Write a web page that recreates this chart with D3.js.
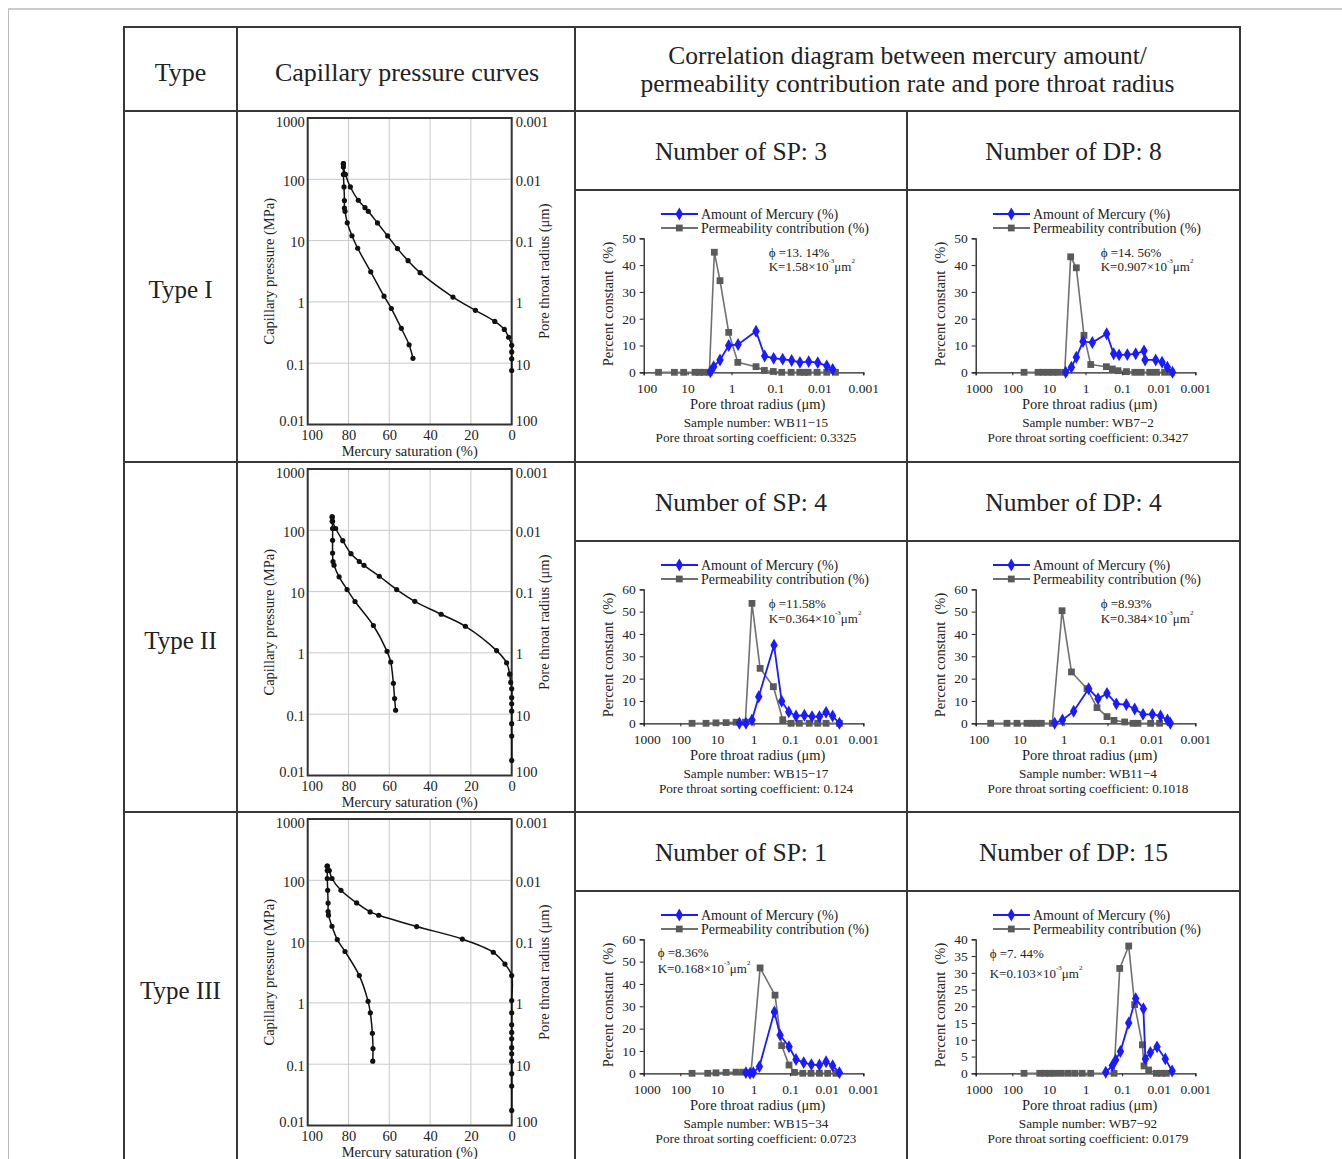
<!DOCTYPE html>
<html>
<head>
<meta charset="utf-8">
<script src="https://cdn.jsdelivr.net/npm/d3@7"></script>
<style>
  body { margin: 0; background: #fff; }
  text { font-family: "Liberation Serif", "Times New Roman", serif; fill: #222; }
</style>
</head>
<body>
<script>
// ---- table text ----
var typeLabels = ['Type I', 'Type II', 'Type III'];
var spCounts = [3, 4, 1];
var dpCounts = [8, 4, 15];

// ---- capillary pressure curves: pressure (MPa) / mercury saturation (%) ----
var pressureTicks = [1000, 100, 10, 1, 0.1, 0.01];
var radiusTicks = [0.001, 0.01, 0.1, 1, 10, 100];
var saturationTicks = [100, 80, 60, 40, 20, 0];

var cap1InjP = [0.076, 0.118, 0.153, 0.196, 0.265, 0.355, 0.48, 0.73, 1.2, 3.0, 4.7, 7.4, 11.9, 19.4, 30, 34.5, 45.5, 75, 120, 159, 180];
var cap1InjS = [0, 0, 0, 0, 1.5, 3.6, 8.3, 17.8, 28.8, 44.9, 50.8, 56.0, 60.8, 65.8, 70.3, 71.9, 75.2, 79.1, 81.5, 82.5, 82.5];
var cap1WitP = [180, 120, 75, 45, 34, 30, 19.5, 12, 7.5, 3.1, 1.24, 0.78, 0.37, 0.2, 0.12];
var cap1WitS = [82.5, 82.5, 82.2, 82.0, 82.0, 81.7, 80.6, 78.3, 75.5, 69.1, 62.6, 59.0, 54.1, 50.3, 48.4];

var cap2InjP = [0.0176, 0.044, 0.07, 0.112, 0.148, 0.186, 0.26, 0.33, 0.45, 0.69, 1.09, 2.72, 4.27, 6.95, 10.8, 17.8, 26.8, 31, 41.5, 67.6, 107, 140, 165];
var cap2InjS = [0, 0, 0, 0, 0, 0, 0, 0.5, 1, 2.5, 7.4, 22.7, 34.6, 47.5, 56.4, 64.9, 72.4, 74.7, 78.8, 82.8, 86.3, 87.8, 88];
var cap2WitP = [165, 140, 107, 68.7, 42.5, 31, 27, 17.4, 10.8, 6.9, 2.8, 1.06, 0.71, 0.32, 0.18, 0.116];
var cap2WitS = [88, 88, 87.8, 87.8, 87.8, 87.6, 87.1, 84.6, 80.7, 76.8, 67.8, 61.1, 59.3, 58, 57.4, 56.9];

var cap3InjP = [0.0176, 0.044, 0.07, 0.112, 0.148, 0.186, 0.26, 0.33, 0.44, 0.69, 1.09, 2.79, 4.3, 6.7, 11, 17.6, 26.9, 30.5, 42.7, 68.7, 107, 144, 170];
var cap3InjS = [0, 0, 0, 0, 0, 0, 0, 0, 0, 0, 0, 0, 3.3, 9, 24.2, 46.6, 65.2, 69.4, 76, 83.7, 88.1, 89.4, 90.4];
var cap3WitP = [170, 144, 107, 68.7, 42.5, 31, 27, 17.8, 10.8, 6.9, 2.79, 1.06, 0.69, 0.32, 0.18, 0.112];
var cap3WitS = [90.4, 90.4, 90.4, 90.2, 90, 90, 89.8, 88.1, 85.5, 81.7, 74.7, 70.4, 69.3, 68.3, 68, 68.1];

// ---- pore throat distributions: [radius (um), percent] ----
var radiusDecades = [1000, 100, 10, 1, 0.1, 0.01, 0.001];

var sp1Perm = [[46, 0], [20, 0], [12.3, 0], [6.8, 0], [5.4, 0], [4.3, 0], [3.2, 0], [2.46, 44.8], [1.83, 34.2], [1.16, 14.9], [0.72, 3.7], [0.277, 2.1], [0.179, 0.7], [0.112, 0.3], [0.072, 0], [0.044, 0], [0.028, 0], [0.022, 0], [0.018, 0], [0.0113, 0], [0.0068, 0], [0.0043, 0]];
var sp1Mercury = [[3.04, 0.2], [2.55, 2.1], [1.83, 4.6], [1.16, 10], [0.71, 10.4], [0.277, 15.3], [0.176, 6.1], [0.11, 5.2], [0.0686, 4.9], [0.0428, 4.4], [0.0277, 3.7], [0.0175, 4.0], [0.0109, 3.6], [0.0068, 2.4], [0.005, 1.1]];

var dp1Perm = [[47.8, 0], [19.8, 0], [14.5, 0], [10.6, 0], [7.7, 0], [5.6, 0], [3.7, 0], [2.54, 43.1], [1.78, 39], [1.10, 13.8], [0.72, 2.9], [0.269, 2.1], [0.185, 1.25], [0.129, 0.6], [0.076, 0.25], [0.045, 0], [0.030, 0], [0.0176, 0], [0.0116, 0], [0.0069, 0], [0.0045, 0]];
var dp1Mercury = [[3.47, 0], [2.43, 1.9], [1.78, 5.6], [1.17, 11.5], [0.65, 11.1], [0.264, 14.4], [0.17, 6.9], [0.121, 6.5], [0.072, 6.6], [0.0425, 6.9], [0.0252, 8], [0.0236, 4.6], [0.0121, 4.6], [0.0081, 3.75], [0.0058, 1.9], [0.0042, 0]];

var sp2Perm = [[47.8, 0], [19.8, 0], [10.6, 0.2], [5.6, 0.3], [3.0, 0.5], [1.67, 0.5], [1.10, 53.7], [0.66, 24.6], [0.286, 16.4], [0.159, 1.6], [0.094, 0], [0.056, 0], [0.030, 0], [0.0176, 0], [0.0104, 0], [0.0045, 0]];
var sp2Mercury = [[2.43, 0], [1.61, 0], [1.10, 1.5], [0.72, 11.9], [0.275, 35], [0.17, 9.9], [0.109, 5.1], [0.069, 3.3], [0.0407, 3.6], [0.0252, 3.0], [0.0158, 3.0], [0.0104, 4.9], [0.0069, 3.3], [0.0045, 0]];

var dp2Perm = [[45.6, 0], [19.4, 0], [11.5, 0], [6.8, 0], [5.2, 0], [4.2, 0], [3.2, 0], [1.8, 0], [1.08, 50.4], [0.66, 23], [0.292, 15.5], [0.173, 7], [0.1026, 3], [0.071, 1.3], [0.0406, 0.6], [0.0262, 0], [0.0202, 0], [0.0104, 0], [0.0065, 0]];
var dp2Mercury = [[1.59, 0], [1.06, 1.5], [0.588, 5.4], [0.268, 15.5], [0.164, 11], [0.1026, 13.4], [0.0628, 8.7], [0.0372, 8.4], [0.024, 6.4], [0.0155, 4.0], [0.0095, 4.0], [0.0062, 3.3], [0.0043, 1.5], [0.0037, 0]];

var sp3Perm = [[47.8, 0], [17.8, 0], [10.6, 0.2], [5.6, 0.4], [3.0, 0.5], [1.97, 0.5], [1.17, 0.3], [0.66, 47.2], [0.258, 35], [0.17, 12.4], [0.107, 3.7], [0.076, 0.4], [0.045, 0], [0.0268, 0], [0.0158, 0], [0.0094, 0], [0.0056, 0]];
var sp3Mercury = [[1.61, 0.3], [1.24, 0], [1.01, 0.3], [0.69, 3], [0.269, 27.5], [0.188, 17.1], [0.107, 11.9], [0.069, 6.2], [0.0425, 4.8], [0.0262, 3.9], [0.0158, 3.7], [0.0104, 5.2], [0.0069, 3.4], [0.0045, 0.3]];

var dp3Perm = [[47.8, 0], [17.8, 0], [13, 0], [9.5, 0], [6.9, 0], [4.6, 0], [3.0, 0], [1.97, 0], [1.24, 0], [0.72, 0], [0.166, 0], [0.116, 31.3], [0.066, 38], [0.0453, 20.5], [0.0279, 8.5], [0.0252, 2.2], [0.0188, 1], [0.0116, 0], [0.0085, 0], [0.0062, 0]];
var dp3Mercury = [[0.28, 0.3], [0.185, 2.3], [0.15, 4], [0.111, 6.5], [0.066, 15], [0.0425, 22.3], [0.0262, 19.3], [0.0231, 4.3], [0.0169, 6.2], [0.0111, 7.9], [0.0066, 4.3], [0.0043, 0.7]];

var phiTexts = ['13. 14%', '14. 56%', '11.58%', '8.93%', '8.36%', '7. 44%'];
var kTexts = ['1.58', '0.907', '0.364', '0.384', '0.168', '0.103'];
var sampleNumbers = ['WB11\u221215', 'WB7\u22122', 'WB15\u221217', 'WB11\u22124', 'WB15\u221234', 'WB7\u221292'];
var sortingCoefs = ['0.3325', '0.3427', '0.124', '0.1018', '0.0723', '0.0179'];

// ---- layout ----
var W = 1342, H = 1159;
var tblL = 124, tblR = 1240, tblT = 27, colA = 237, colB = 575, colC = 907;
var headB = 111;
var rowTops = [111, 462, 812];
var subH = 79;
var lineCol = '#383838';

var svg = d3.select('body').append('svg').attr('width', W).attr('height', H);

// page frame
svg.append('line').attr('x1', 8).attr('x2', W).attr('y1', 9).attr('y2', 9)
  .attr('stroke', '#999').attr('stroke-width', 1.2);
svg.append('line').attr('x1', 8.5).attr('x2', 8.5).attr('y1', 9).attr('y2', H)
  .attr('stroke', '#bbb').attr('stroke-width', 1);

// table lines
var table = svg.append('g').attr('stroke', lineCol).attr('stroke-width', 2);
[tblT, headB, rowTops[1], rowTops[2]].forEach(function(y) {
  table.append('line').attr('x1', tblL - 1).attr('x2', tblR + 1).attr('y1', y).attr('y2', y);
});
rowTops.forEach(function(y) {
  table.append('line').attr('x1', colB).attr('x2', tblR).attr('y1', y + subH).attr('y2', y + subH);
});
[tblL, colA, colB, tblR].forEach(function(x) {
  table.append('line').attr('x1', x).attr('x2', x).attr('y1', tblT - 1).attr('y2', H);
});
table.append('line').attr('x1', colC).attr('x2', colC).attr('y1', headB).attr('y2', H);

// headers
function headText(x, y, size, str) {
  svg.append('text').attr('x', x).attr('y', y).attr('text-anchor', 'middle')
    .attr('dominant-baseline', 'central').style('font-size', size + 'px').text(str);
}
headText((tblL + colA) / 2, 72, 26, 'Type');
headText((colA + colB) / 2 + 1, 72, 26, 'Capillary pressure curves');
headText((colB + tblR) / 2, 55, 25.5, 'Correlation diagram between mercury amount/');
headText((colB + tblR) / 2, 83, 25.5, 'permeability contribution rate and pore throat radius');

rowTops.forEach(function(top, i) {
  headText((tblL + colA) / 2, top + 178, 25, typeLabels[i]);
  headText((colB + colC) / 2, top + 40, 25.5, 'Number of SP: ' + spCounts[i]);
  headText((colC + tblR) / 2, top + 40, 25.5, 'Number of DP: ' + dpCounts[i]);
});

// ---- capillary pressure chart ----
function drawCapillary(top, injP, injS, witP, witS) {
  var g = svg.append('g');
  var x = d3.scaleLinear().domain([100, 0]).range([307.7, 511.7]);
  var y = d3.scaleLog().domain([1000, 0.01]).range([top + 7, top + 313.5]);
  var yR = d3.scaleLog().domain([0.001, 100]).range([top + 7, top + 313.5]);

  // grid
  g.selectAll('.vg').data([80, 60, 40, 20]).enter().append('line')
    .attr('x1', x).attr('x2', x).attr('y1', y(1000)).attr('y2', y(0.01))
    .attr('stroke', '#c9c9c9').attr('stroke-width', 1);
  g.selectAll('.hg').data([100, 10, 1, 0.1]).enter().append('line')
    .attr('x1', x(100)).attr('x2', x(0)).attr('y1', y).attr('y2', y)
    .attr('stroke', '#c9c9c9').attr('stroke-width', 1);

  g.append('rect').attr('x', x(100)).attr('y', y(1000))
    .attr('width', x(0) - x(100)).attr('height', y(0.01) - y(1000))
    .attr('fill', 'none').attr('stroke', '#333').attr('stroke-width', 2);

  var fmt = function(d) { return String(d); };
  var la = g.append('g').attr('transform', 'translate(' + x(100) + ',0)')
    .call(d3.axisLeft(y).tickValues(pressureTicks).tickFormat(fmt).tickSize(0).tickPadding(3));
  var ra = g.append('g').attr('transform', 'translate(' + x(0) + ',0)')
    .call(d3.axisRight(yR).tickValues(radiusTicks).tickFormat(fmt).tickSize(0).tickPadding(4));
  var ba = g.append('g').attr('transform', 'translate(0,' + y(0.01) + ')')
    .call(d3.axisBottom(x).tickValues(saturationTicks).tickFormat(fmt).tickSize(0).tickPadding(5));
  [la, ra, ba].forEach(function(a) {
    a.select('.domain').remove();
    a.selectAll('text').style('font-size', '14.5px').attr('fill', '#222').style('font-family', '"Liberation Serif", serif');
  });
  // end labels sit a little inside the frame, as in the source figure
  la.selectAll('text').attr('dy', function(d) { return d === 1000 ? '0.6em' : d === 0.01 ? '0.1em' : '0.4em'; });
  ra.selectAll('text').attr('dy', function(d) { return d === 0.001 ? '0.6em' : d === 100 ? '0.1em' : '0.4em'; });
  ba.selectAll('text').attr('dx', function(d) { return d === 100 ? 4 : 0; });

  var cy = (y(1000) + y(0.01)) / 2;
  g.append('text').attr('transform', 'translate(269,' + cy + ') rotate(-90)')
    .attr('text-anchor', 'middle').attr('dominant-baseline', 'central')
    .style('font-size', '14.5px').text('Capillary pressure (MPa)');
  g.append('text').attr('transform', 'translate(544,' + cy + ') rotate(-90)')
    .attr('text-anchor', 'middle').attr('dominant-baseline', 'central')
    .style('font-size', '14.5px').text('Pore throat radius (\u03bcm)');
  g.append('text').attr('x', (x(100) + x(0)) / 2).attr('y', top + 340)
    .attr('text-anchor', 'middle').attr('dominant-baseline', 'central')
    .style('font-size', '14.5px').text('Mercury saturation (%)');

  var line = d3.line().x(function(d) { return x(d[1]); }).y(function(d) { return y(d[0]); })
    .curve(d3.curveCatmullRom.alpha(0.5));
  [[injP, injS], [witP, witS]].forEach(function(pair) {
    var pts = pair[0].map(function(p, i) { return [p, pair[1][i]]; });
    g.append('path').datum(pts).attr('d', line)
      .attr('fill', 'none').attr('stroke', '#111').attr('stroke-width', 1.5);
    g.selectAll(null).data(pts).enter().append('circle')
      .attr('cx', function(d) { return x(d[1]); }).attr('cy', function(d) { return y(d[0]); })
      .attr('r', 2.6).attr('fill', '#111');
  });
}

drawCapillary(rowTops[0], cap1InjP, cap1InjS, cap1WitP, cap1WitS);
drawCapillary(rowTops[1], cap2InjP, cap2InjS, cap2WitP, cap2WitS);
drawCapillary(rowTops[2], cap3InjP, cap3InjS, cap3WitP, cap3WitS);

// ---- pore throat radius charts ----
var blue = '#1b1bff', grey = '#5a5a5a', greyLine = '#707070';

var pctCharts = [
  { row: 0, cellX: colB, xMax: 100, yMax: 50, yStep: 10, mercury: sp1Mercury, perm: sp1Perm, i: 0, noteX: 192.7, phiY: 62, kY: 76 },
  { row: 0, cellX: colC, xMax: 1000, yMax: 50, yStep: 10, mercury: dp1Mercury, perm: dp1Perm, i: 1, noteX: 192.7, phiY: 62, kY: 76 },
  { row: 1, cellX: colB, xMax: 1000, yMax: 60, yStep: 10, mercury: sp2Mercury, perm: sp2Perm, i: 2, noteX: 192.7, phiY: 62, kY: 77 },
  { row: 1, cellX: colC, xMax: 100, yMax: 60, yStep: 10, mercury: dp2Mercury, perm: dp2Perm, i: 3, noteX: 192.7, phiY: 62, kY: 77 },
  { row: 2, cellX: colB, xMax: 1000, yMax: 60, yStep: 10, mercury: sp3Mercury, perm: sp3Perm, i: 4, noteX: 81.7, phiY: 61, kY: 77 },
  { row: 2, cellX: colC, xMax: 1000, yMax: 40, yStep: 5, mercury: dp3Mercury, perm: dp3Perm, i: 5, noteX: 81.7, phiY: 62, kY: 82 }
];

function drawPct(c) {
  var cx = c.cellX + 1, top = rowTops[c.row] + subH;
  var g = svg.append('g');
  var x = d3.scaleLog().domain([c.xMax, 0.001]).range([cx + 67.7, cx + 287.3]);
  var y = d3.scaleLinear().domain([0, c.yMax]).range([top + 182.3, top + 48.3]);

  var xa = g.append('g').attr('transform', 'translate(0,' + y(0) + ')')
    .call(d3.axisBottom(x).tickValues(radiusDecades.filter(function(d) { return d <= c.xMax; }))
      .tickFormat(function(d) { return String(d); }).tickSize(3).tickPadding(8));
  var yTicks = d3.range(0, c.yMax + 0.1, c.yStep);
  var ya = g.append('g').attr('transform', 'translate(' + x(c.xMax) + ',0)')
    .call(d3.axisLeft(y).tickValues(yTicks).tickSize(4).tickPadding(4));
  [xa, ya].forEach(function(a) {
    a.select('.domain').attr('stroke', '#222').attr('stroke-width', 1.3);
    a.selectAll('.tick line').attr('stroke', '#222');
    a.selectAll('text').style('font-size', '13.5px').attr('fill', '#222').style('font-family', '"Liberation Serif", serif');
  });
  xa.selectAll('text').attr('dx', function(d) { return d === c.xMax ? 3 : 0; });

  g.append('text').attr('transform', 'translate(' + (cx + 32.3) + ',' + (top + 114) + ') rotate(-90)')
    .attr('text-anchor', 'middle').attr('dominant-baseline', 'central')
    .style('font-size', '14.5px').text('Percent constant\u00a0\u00a0(%)');

  // series
  var line = d3.line().x(function(d) { return x(d[0]); }).y(function(d) { return y(d[1]); });
  g.append('path').datum(c.perm).attr('d', line).attr('fill', 'none')
    .attr('stroke', greyLine).attr('stroke-width', 1.6);
  g.selectAll(null).data(c.perm).enter().append('path')
    .attr('d', d3.symbol().type(d3.symbolSquare).size(46))
    .attr('transform', function(d) { return 'translate(' + x(d[0]) + ',' + y(d[1]) + ')'; })
    .attr('fill', grey);
  g.append('path').datum(c.mercury).attr('d', line).attr('fill', 'none')
    .attr('stroke', blue).attr('stroke-width', 1.8);
  g.selectAll(null).data(c.mercury).enter().append('path')
    .attr('d', d3.symbol().type(d3.symbolDiamond).size(48))
    .attr('transform', function(d) { return 'translate(' + x(d[0]) + ',' + y(d[1]) + ')'; })
    .attr('fill', blue);

  // legend
  var legend = [
    { label: 'Amount of Mercury (%)', color: blue, line: blue, sym: d3.symbolDiamond, size: 48, dy: 24 },
    { label: 'Permeability contribution (%)', color: grey, line: greyLine, sym: d3.symbolSquare, size: 46, dy: 38 }
  ];
  legend.forEach(function(l) {
    var ly = top + l.dy;
    g.append('line').attr('x1', cx + 85).attr('x2', cx + 122).attr('y1', ly).attr('y2', ly)
      .attr('stroke', l.line).attr('stroke-width', 1.8);
    g.append('path').attr('d', d3.symbol().type(l.sym).size(l.size))
      .attr('transform', 'translate(' + (cx + 103.3) + ',' + ly + ')').attr('fill', l.color);
    g.append('text').attr('x', cx + 125).attr('y', ly).attr('dominant-baseline', 'central')
      .style('font-size', '14px').text(l.label);
  });

  // porosity / permeability note
  g.append('text').attr('x', cx + c.noteX).attr('y', top + c.phiY).attr('dominant-baseline', 'central')
    .style('font-size', '13px').text('\u03d5 =' + phiTexts[c.i]);
  var kt = g.append('text').attr('x', cx + c.noteX).attr('y', top + c.kY).attr('dominant-baseline', 'central')
    .style('font-size', '13px');
  kt.append('tspan').text('K=' + kTexts[c.i] + '\u00d710');
  kt.append('tspan').attr('dy', -5).style('font-size', '7px').text('-3');
  kt.append('tspan').attr('dy', 5).text('\u03bcm');
  kt.append('tspan').attr('dy', -5).style('font-size', '7px').text('2');

  // captions
  var capX = cx + 180;
  g.append('text').attr('x', cx + 181.7).attr('y', top + 213.5).attr('text-anchor', 'middle')
    .attr('dominant-baseline', 'central').style('font-size', '14.5px').text('Pore throat radius (\u03bcm)');
  g.append('text').attr('x', capX).attr('y', top + 232.5).attr('text-anchor', 'middle')
    .attr('dominant-baseline', 'central').style('font-size', '13.2px').text('Sample number: ' + sampleNumbers[c.i]);
  g.append('text').attr('x', capX).attr('y', top + 247.5).attr('text-anchor', 'middle')
    .attr('dominant-baseline', 'central').style('font-size', '13.2px').text('Pore throat sorting coefficient: ' + sortingCoefs[c.i]);
}

pctCharts.forEach(drawPct);
</script>
</body>
</html>
